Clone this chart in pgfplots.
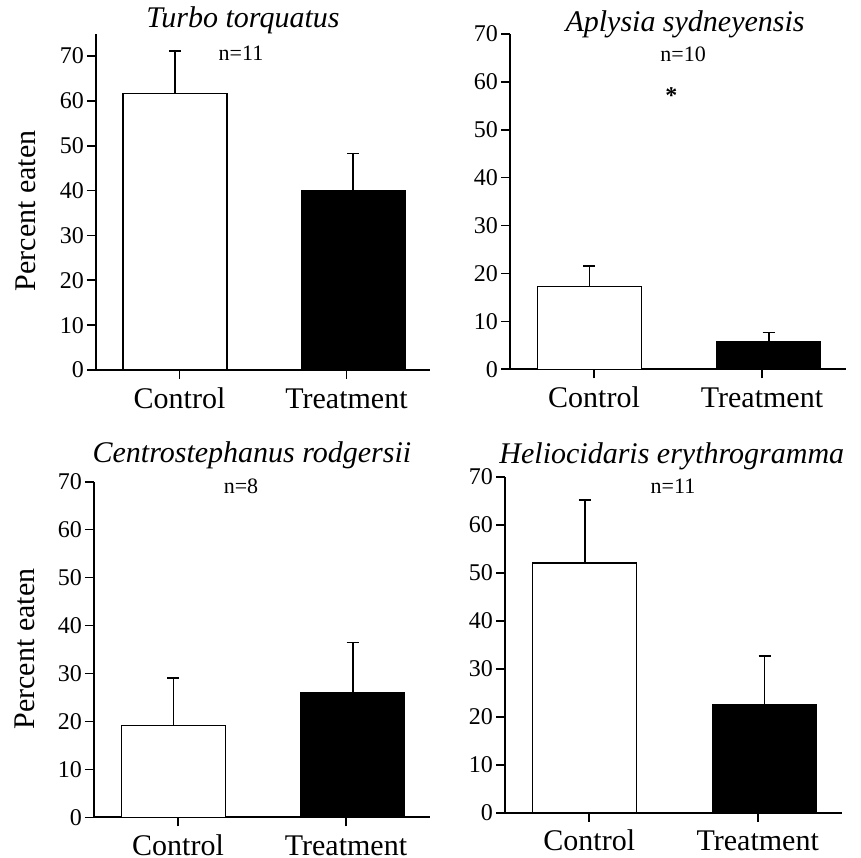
\documentclass[border=0pt]{standalone}
\usepackage{fontspec}
\setmainfont{Liberation Serif}
\usepackage{pgfplots}
\pgfplotsset{compat=1.18}
\pgfplotsset{
 panel/.style={
   scale only axis,
   axis lines=left,
   axis line style={-, line width=2.2pt},
   xmin=-0.5, xmax=1.5,
   ymin=0,
   xtick={0,1}, xticklabels={Control,Treatment},
   ytick={0,10,...,70},
   tick align=outside,
   major tick length=9pt,
   tick style={black, line width=1.6pt},
   /pgf/number format/assume math mode=true,
   yticklabel style={font=\fontsize{24}{24}\selectfont, inner sep=3pt},
   xticklabel style={font=\fontsize{30}{30}\selectfont, inner sep=0pt,
     text height=21pt, text depth=0pt, yshift=-8pt},
   clip=false,
   ybar, bar width=104pt, bar shift=0pt,
   anchor=south west,
 },
 ebar/.style={draw=black, line width=1.3pt, bar shift=0pt,
   error bars/y dir=plus, error bars/y explicit,
   error bars/error bar style={line width=1.6pt},
   error bars/error mark options={line width=1.6pt, mark size=6pt, rotate=90}},
}
\newcommand{\ttl}{\fontsize{30}{30}\selectfont\itshape}
\newcommand{\nn}{\fontsize{22}{22}\selectfont}
\newcommand{\yl}{\fontsize{30}{30}\selectfont}
\begin{document}
\begin{tikzpicture}
\path[use as bounding box] (0pt,0pt) rectangle (861pt,857pt);
% Panel 1
\begin{axis}[panel, at={(96pt,487pt)}, width=334pt, height=336.4pt, ymax=75]
\addplot[fill=white, ebar] coordinates {(-0.027,61.6) +- (0,9.5)};
\addplot[fill=black, ebar] coordinates {(1.04,40.0) +- (0,8.3)};
\node[anchor=base, font=\ttl] at (rel axis cs:0.44,1.017) {Turbo torquatus};
\node[anchor=base, font=\nn] at (rel axis cs:0.434,0.9215) {n=11};
\node[anchor=base, rotate=90, font=\yl] at (rel axis cs:-0.1826,0.473) {Percent eaten};
\end{axis}
% Panel 2
\begin{axis}[panel, at={(510pt,487.7pt)}, width=336pt, height=335.3pt, ymax=70]
\addplot[fill=white, ebar] coordinates {(-0.027,17.3) +- (0,4.3)};
\addplot[fill=black, ebar] coordinates {(1.04,5.8) +- (0,1.9)};
\node[anchor=base, font=\ttl] at (rel axis cs:0.521,1.006) {Aplysia sydneyensis};
\node[anchor=base, font=\nn] at (rel axis cs:0.515,0.919) {n=10};
\node[font=\fontsize{24}{24}\selectfont\bfseries] at (axis cs:0.46,57.2) {*};
\end{axis}
% Panel 3
\begin{axis}[panel, at={(94pt,39.7pt)}, width=336pt, height=335.6pt, ymax=70]
\addplot[fill=white, ebar] coordinates {(-0.027,19.1) +- (0,9.9)};
\addplot[fill=black, ebar] coordinates {(1.04,25.9) +- (0,10.6)};
\node[anchor=base, font=\ttl] at (rel axis cs:0.470,1.056) {Centrostephanus rodgersii};
\node[anchor=base, font=\nn] at (rel axis cs:0.4375,0.966) {n=8};
\node[anchor=base, rotate=90, font=\yl] at (rel axis cs:-0.1756,0.5015) {Percent eaten};
\end{axis}
% Panel 4
\begin{axis}[panel, at={(505pt,44.3pt)}, width=337pt, height=336pt, ymax=70]
\addplot[fill=white, ebar] coordinates {(-0.027,52.0) +- (0,13.1)};
\addplot[fill=black, ebar] coordinates {(1.04,22.6) +- (0,10.0)};
\node[anchor=base, font=\ttl] at (rel axis cs:0.495,1.038) {Heliocidaris erythrogramma};
\node[anchor=base, font=\nn] at (rel axis cs:0.4985,0.9506) {n=11};
\end{axis}
\end{tikzpicture}
\end{document}
